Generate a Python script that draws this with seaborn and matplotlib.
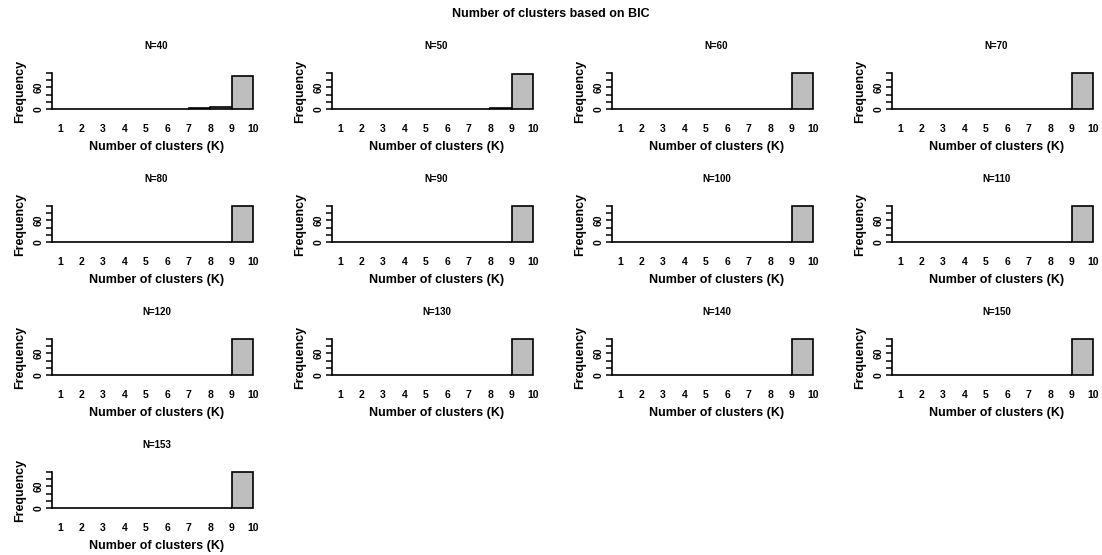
import numpy as np
import pandas as pd
import matplotlib
matplotlib.use("Agg")
import matplotlib.pyplot as plt
import seaborn as sns

# sample sizes per panel
sizes = [40, 50, 60, 70, 80, 90, 100, 110, 120, 130, 140, 150, 153]

# bins (0,1], (1,2], ..., (9,10]
bin_edges = list(range(0, 11))
bin_mids = [0.5, 1.5, 2.5, 3.5, 4.5, 5.5, 6.5, 7.5, 8.5, 9.5]

# frequency of chosen K per bin
counts_40 = [0, 0, 0, 0, 0, 0, 0, 2, 5, 93]
counts_50 = [0, 0, 0, 0, 0, 0, 0, 0, 4, 96]
counts_all10 = [0, 0, 0, 0, 0, 0, 0, 0, 0, 100]
counts = [counts_40, counts_50] + [counts_all10] * 11

sns.set_style("white")
plt.rcParams['font.family'] = ['Liberation Sans', 'DejaVu Sans']
plt.rcParams['font.weight'] = 'bold'
plt.rcParams['text.color'] = 'black'
plt.rcParams['axes.labelcolor'] = 'black'
plt.rcParams['xtick.color'] = 'black'
plt.rcParams['ytick.color'] = 'black'
plt.rcParams['axes.edgecolor'] = 'black'

W, H = 1102, 555
fig = plt.figure(figsize=(W / 100, H / 100), dpi=100)

ax_w = 208.5
ax_h = 38.9
for i, n in enumerate(sizes):
    r, c = divmod(i, 4)
    left = 52.3 + 280 * c
    top = 71.6 + 133 * r
    ax = fig.add_axes([left / W, 1 - (top + ax_h) / H, ax_w / W, ax_h / H])
    df = pd.DataFrame({"k": bin_mids, "freq": counts[i]})
    sns.histplot(data=df, x="k", weights="freq", bins=bin_edges, ax=ax,
                 color="#BEBEBE", edgecolor="black", linewidth=1.2, alpha=1)
    ax.set_xlim(0.64, 10.36)
    ax.set_ylim(-4, 104)
    for s in ["top", "right", "bottom"]:
        ax.spines[s].set_visible(False)
    ax.spines["left"].set_bounds(0, 100)
    ax.spines["left"].set_linewidth(1.2)
    ax.set_yticks([0, 20, 40, 60, 80, 100])
    ax.set_yticklabels(["0", "", "", "60", "", ""], rotation=90, va="center")
    ax.tick_params(axis="y", length=4, width=1.1, labelsize=7.5, pad=2, left=True)
    ax.set_xticks(range(1, 11))
    ax.set_xticklabels([str(k) for k in range(1, 11)])
    ax.tick_params(axis="x", length=0, labelsize=7.5, pad=10)
    ax.set_xlabel("Number of clusters (K)", fontsize=9, fontweight="bold", labelpad=5)
    ax.set_ylabel("Frequency", fontsize=9, fontweight="bold", labelpad=6)
    ax.set_title(f"N={n}", fontsize=7, fontweight="bold", pad=16)
    ax.grid(False)

fig.suptitle("Number of clusters based on BIC", fontsize=9, fontweight="bold", y=0.986)
fig.savefig("out.png", dpi=100)
